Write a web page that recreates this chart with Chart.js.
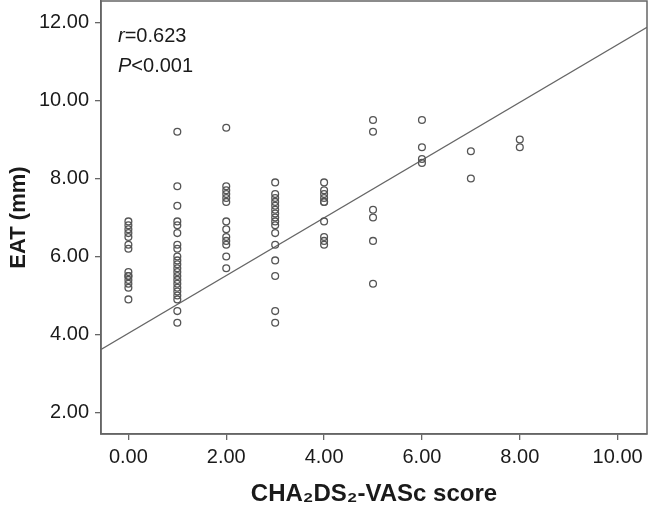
<!DOCTYPE html>
<html lang="en">
<head>
<meta charset="UTF-8">
<title>EAT vs CHA2DS2-VASc score</title>
<script src="https://cdn.jsdelivr.net/npm/chart.js"></script>
<style>
  html, body { margin: 0; padding: 0; background: #fff; }
  #wrap { width: 648px; height: 509px; }
</style>
</head>
<body>
<div id="wrap"><canvas id="eatChart" width="648" height="509"></canvas></div>
<script>
// EAT (mm) readings per CHA2DS2-VASc score
const scores = [0, 1, 2, 3, 4, 5, 6, 7, 8];
const eatScore0 = [6.9, 6.8, 6.7, 6.6, 6.5, 6.3, 6.2, 5.6, 5.5, 5.5, 5.4, 5.3, 5.2, 4.9];
const eatScore1 = [9.2, 7.8, 7.3, 6.9, 6.8, 6.6, 6.3, 6.2, 6.0, 5.9, 5.8, 5.7, 5.6, 5.5, 5.4, 5.3, 5.2, 5.1, 5.0, 4.9, 4.6, 4.3];
const eatScore2 = [9.3, 7.8, 7.7, 7.6, 7.5, 7.4, 6.9, 6.7, 6.5, 6.4, 6.3, 6.0, 5.7];
const eatScore3 = [7.9, 7.6, 7.5, 7.4, 7.3, 7.2, 7.1, 7.0, 6.9, 6.8, 6.6, 6.3, 5.9, 5.5, 4.6, 4.3];
const eatScore4 = [7.9, 7.7, 7.6, 7.5, 7.4, 7.4, 6.9, 6.5, 6.4, 6.3];
const eatScore5 = [9.5, 9.2, 7.2, 7.0, 6.4, 5.3];
const eatScore6 = [9.5, 8.8, 8.5, 8.4];
const eatScore7 = [8.7, 8.0];
const eatScore8 = [9.0, 8.8];

// fitted line
const fitIntercept = 4.03;
const fitSlope = 0.74;

const xTicks = [0, 2, 4, 6, 8, 10];
const yTicks = [2, 4, 6, 8, 10, 12];
const xRange = [-0.56, 10.6];
const yRange = [1.45, 12.55];

const byScore = [eatScore0, eatScore1, eatScore2, eatScore3, eatScore4, eatScore5, eatScore6, eatScore7, eatScore8];
const points = [];
scores.forEach((s, i) => byScore[i].forEach(v => points.push({ x: s, y: v })));
const fitLine = xRange.map(x => ({ x: x, y: fitIntercept + fitSlope * x }));

const FONT = "'Liberation Sans', Arial, sans-serif";
const axisGrey = '#666';
const textCol = '#1a1a1a';

// box round the plot + r / P note
const framePlugin = {
    id: 'frame',
    afterDraw(chart) {
        const { ctx, chartArea: a } = chart;
        ctx.save();
        ctx.strokeStyle = axisGrey;
        ctx.lineWidth = 1.5;
        ctx.strokeRect(a.left, a.top, a.right - a.left, a.bottom - a.top);

        ctx.fillStyle = textCol;
        ctx.textBaseline = 'alphabetic';
        const x0 = 118;
        const lines = [['r', '=0.623', 42], ['P', '<0.001', 72]];
        lines.forEach(([it, rest, y]) => {
            ctx.font = 'italic 20px ' + FONT;
            ctx.fillText(it, x0, y);
            const w = ctx.measureText(it).width;
            ctx.font = '20px ' + FONT;
            ctx.fillText(rest, x0 + w, y);
        });
        ctx.restore();
    }
};

// fixed axis sizes, no extra room for the end labels
function noPad(s) {
    s.paddingTop = 0;
    s.paddingBottom = 0;
    s.paddingLeft = 0;
    s.paddingRight = 0;
}

const ctx = document.getElementById('eatChart').getContext('2d');
new Chart(ctx, {
    type: 'scatter',
    data: {
        datasets: [
            {
                label: 'EAT',
                data: points,
                pointStyle: 'circle',
                pointRadius: 3.4,
                pointBackgroundColor: 'rgba(255,255,255,0)',
                pointBorderColor: '#555',
                pointBorderWidth: 1.3
            },
            {
                type: 'line',
                label: 'Fit',
                data: fitLine,
                borderColor: '#666',
                borderWidth: 1.3,
                pointRadius: 0,
                fill: false
            }
        ]
    },
    options: {
        responsive: false,
        animation: false,
        layout: { autoPadding: false, padding: { top: 1, right: 1, left: 0, bottom: 0 } },
        plugins: { legend: { display: false }, tooltip: { enabled: false } },
        scales: {
            x: {
                type: 'linear',
                min: xRange[0],
                max: xRange[1],
                afterBuildTicks: s => { s.ticks = xTicks.map(v => ({ value: v })); },
                afterFit: s => { s.height = 75; noPad(s); },
                ticks: {
                    callback: v => v.toFixed(2),
                    font: { family: FONT, size: 20 },
                    color: textCol,
                    padding: 5,
                    maxRotation: 0
                },
                grid: { drawOnChartArea: false, drawTicks: true, tickLength: 6, color: axisGrey, lineWidth: 1.3 },
                border: { display: true, color: axisGrey, width: 1.5 },
                title: {
                    display: true,
                    text: 'CHA\u2082DS\u2082-VASc score',
                    font: { family: FONT, size: 24, weight: 'bold' },
                    color: textCol,
                    padding: { top: 0, bottom: 0 }
                }
            },
            y: {
                type: 'linear',
                min: yRange[0],
                max: yRange[1],
                afterBuildTicks: s => { s.ticks = yTicks.map(v => ({ value: v })); },
                afterFit: s => { s.width = 101; noPad(s); },
                ticks: {
                    callback: v => v.toFixed(2),
                    font: { family: FONT, size: 20 },
                    color: textCol,
                    padding: 6
                },
                grid: { drawOnChartArea: false, drawTicks: true, tickLength: 6, color: axisGrey, lineWidth: 1.3 },
                border: { display: true, color: axisGrey, width: 1.5 },
                title: {
                    display: true,
                    text: 'EAT (mm)',
                    font: { family: FONT, size: 22, weight: 'bold' },
                    color: textCol,
                    padding: { top: 6, bottom: 0 }
                }
            }
        }
    },
    plugins: [framePlugin]
});
</script>
</body>
</html>
